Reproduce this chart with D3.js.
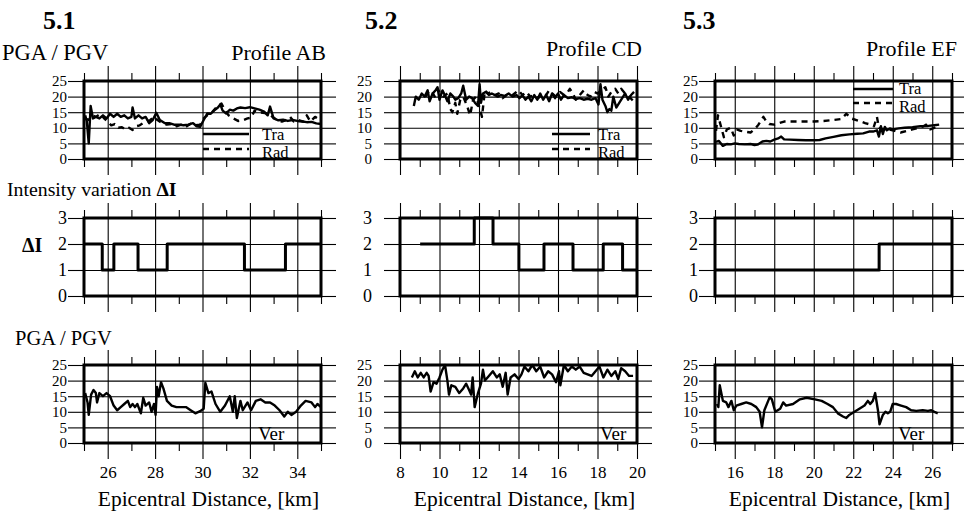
<!DOCTYPE html>
<html>
<head>
<meta charset="utf-8">
<script src="https://d3js.org/d3.v7.min.js"></script>
<style>
body { margin: 0; background: #fff; }
</style>
</head>
<body>
<script>
// DATA

var kmDomains = [[25, 35], [8, 20], [15, 27]];
var pgaTicks = [0, 5, 10, 15, 20, 25];
var diTicks = [0, 1, 2, 3];
var panelNames = ["5.1", "5.2", "5.3"];
var profileNames = ["Profile AB", "Profile CD", "Profile EF"];
var legendNames = ["Tra", "Rad"];

// profile AB, transverse / radial
var abTra = [[25.05,14],[25.12,12],[25.2,5],[25.28,17],[25.38,13],[25.5,13.5],[25.65,13],[25.8,14],[25.95,13],[26.1,14.5],[26.25,13.5],[26.4,14.5],[26.55,13.5],[26.7,14],[26.85,13],[27.0,13.5],[27.05,16.5],[27.15,13],[27.3,14],[27.45,13],[27.6,13.5],[27.75,11.5],[27.9,12.5],[28.05,14.8],[28.2,12.5],[28.4,11.5],[28.6,11.5],[28.8,11],[29.0,11],[29.2,10.8],[29.4,11],[29.6,11.5],[29.75,10.5],[29.9,10.3],[30.05,12.5],[30.2,14.6],[30.35,14.5],[30.5,15.6],[30.65,16.5],[30.75,17.5],[30.85,15.5],[31.0,14.6],[31.15,15.8],[31.3,15.5],[31.45,16.2],[31.6,16.5],[31.8,16.3],[32.0,16.6],[32.2,16.2],[32.4,15.8],[32.6,15.2],[32.75,14],[32.85,16.8],[33.0,13],[33.2,12.4],[33.4,12.6],[33.6,12.2],[33.8,12.5],[34.0,12.2],[34.2,12],[34.4,11.8],[34.6,11.9],[34.8,11.4],[35.0,11.2]];
var abRad = [[25.05,13],[25.2,12.5],[25.35,14],[25.5,13.5],[25.7,14.5],[25.85,13],[26.0,12],[26.15,10.8],[26.3,11.2],[26.45,10],[26.6,10.2],[26.75,9.5],[26.9,10],[27.05,9.3],[27.2,10.5],[27.35,10.8],[27.5,11.5],[27.65,12],[27.8,12.5],[27.95,13.5],[28.1,12.5],[28.3,11.5],[28.5,11],[28.7,11.2],[28.9,10.5],[29.1,11],[29.3,10.3],[29.5,11.3],[29.7,10.8],[29.9,11],[30.05,13],[30.2,14],[30.4,15],[30.6,16.7],[30.8,17.8],[30.95,15.5],[31.1,14],[31.3,13],[31.5,12.2],[31.7,12.4],[31.9,13],[32.05,13.2],[32.2,15.5],[32.35,15],[32.55,14.8],[32.75,14.6],[32.95,13.5],[33.15,12.5],[33.35,12],[33.5,12.4],[33.7,13.5],[33.85,12],[34.05,12.5],[34.25,12],[34.4,14],[34.55,12],[34.75,13.5],[34.9,12.8],[35.0,12]];

// profile CD
var cdTra = [[8.7,17],[8.8,20],[8.95,19],[9.1,21],[9.25,20],[9.4,22],[9.5,18.5],[9.65,21],[9.8,22],[9.9,23],[10.0,19],[10.15,22],[10.3,20],[10.4,18.5],[10.55,21],[10.7,20],[10.8,19],[10.95,19.5],[11.1,21],[11.2,23.5],[11.35,19],[11.5,20],[11.65,19.5],[11.8,18],[11.95,17],[12.03,24],[12.1,18],[12.2,21],[12.35,21.5],[12.5,20.5],[12.65,21],[12.8,20.5],[12.95,20],[13.1,20.5],[13.3,20.2],[13.5,21],[13.7,20],[13.9,20.5],[14.05,19.5],[14.2,20.5],[14.35,19],[14.5,20],[14.65,18.5],[14.8,20.5],[14.95,19],[15.1,21],[15.25,19],[15.4,20.5],[15.55,18.5],[15.7,21],[15.85,19.5],[16.0,21],[16.15,19],[16.3,20.5],[16.5,19.5],[16.7,19.8],[16.9,19.2],[17.1,19.5],[17.3,19],[17.5,19.3],[17.7,19],[17.9,19.5],[18.05,17.5],[18.15,24],[18.25,19],[18.4,17],[18.5,15],[18.6,16],[18.7,15.5],[18.8,20],[18.95,16.5],[19.1,18],[19.25,19.5],[19.4,21],[19.55,19],[19.7,20.5],[19.85,21.5]];
var cdRad = [[9.3,20],[9.45,21.5],[9.6,22],[9.75,20],[9.9,22.5],[10.05,21],[10.2,20],[10.4,21],[10.55,16],[10.65,15],[10.8,18],[10.9,14.5],[11.05,19],[11.2,20],[11.4,17],[11.55,14],[11.7,19],[11.85,20],[12.05,16],[12.15,13.5],[12.3,22],[12.45,21],[12.6,21.5],[12.8,20.5],[13.0,21],[13.2,19.5],[13.4,20.5],[13.6,20],[13.8,21],[14.0,22],[14.2,20.5],[14.4,21.5],[14.6,20],[14.8,20.5],[15.0,19.5],[15.2,21],[15.4,20.5],[15.55,22],[15.7,21],[15.9,20],[16.1,21.5],[16.3,20.5],[16.45,21],[16.6,22.5],[16.75,21],[16.9,19],[17.1,20.5],[17.3,22],[17.5,20.5],[17.65,20],[17.85,21.5],[18.0,21],[18.2,22],[18.4,23],[18.55,20],[18.7,21.5],[18.9,22.5],[19.05,21],[19.2,22.5],[19.4,21],[19.6,20],[19.75,19],[19.9,18]];

// profile EF
var efTra = [[15.05,5.5],[15.2,5.8],[15.4,4.2],[15.6,4.8],[15.8,4.7],[16.0,5],[16.2,4.8],[16.5,4.7],[16.8,4.8],[17.0,4.5],[17.15,4.6],[17.4,5.6],[17.6,5.8],[17.8,5.6],[18.0,6.2],[18.2,6.6],[18.35,7.2],[18.5,6.3],[18.8,6.2],[19.2,6.1],[19.6,6],[20.0,6],[20.3,6.1],[20.6,6.6],[21.0,7.1],[21.4,7.6],[21.8,7.9],[22.2,8.1],[22.5,8.2],[22.8,8.8],[23.0,8.8],[23.2,9.2],[23.3,7.2],[23.4,10.5],[23.5,8],[23.6,10.3],[23.7,9.2],[23.85,9.8],[24.0,9.5],[24.3,9.8],[24.6,10],[25.0,10.2],[25.4,10.5],[25.8,10.6],[26.1,10.8],[26.35,11]];
var efRad = [[15.05,9],[15.15,14],[15.3,10.5],[15.45,7],[15.6,9.5],[15.8,10],[15.95,7.5],[16.1,9.5],[16.3,9],[16.5,8.8],[16.8,8.5],[17.0,9.5],[17.2,11],[17.35,12.5],[17.45,13.5],[17.6,12],[17.75,11.2],[18.0,11],[18.25,11.5],[18.5,12],[19.0,12],[19.5,12],[20.0,12],[20.5,12.2],[21.0,12.5],[21.4,12.8],[21.65,14.5],[21.9,13],[22.3,12.2],[22.6,11.5],[22.9,11],[23.05,10.5],[23.2,13.5],[23.3,10],[23.5,9.5],[23.8,9.5],[24.1,9],[24.4,8.5],[24.7,9],[25.0,9.5],[25.3,10],[25.55,10.5],[25.7,11],[25.9,9.5],[26.1,10],[26.25,10.5]];

// intensity variation (step, value holds until next point)
var abDI = [[25,2],[25.77,1],[26.26,2],[27.28,1],[28.51,2],[31.77,1],[33.5,2],[35,2]];
var cdDI = [[9.02,2],[11.76,3],[12.71,2],[14.02,1],[15.29,2],[16.76,1],[18.29,2],[19.27,1],[20,1]];
var efDI = [[15,1],[23.31,2],[27,2]];

// vertical component
var abVer = [[25.05,16],[25.15,13],[25.2,9],[25.3,15.5],[25.4,17],[25.5,16],[25.55,13],[25.65,16],[25.8,15],[25.95,16],[26.1,15],[26.25,12],[26.4,10.5],[26.55,11.5],[26.7,12.5],[26.85,13.5],[26.95,11.5],[27.05,12.5],[27.15,11.5],[27.25,12.5],[27.4,9.5],[27.5,14.5],[27.6,12],[27.75,13],[27.85,10],[27.95,12.5],[28.02,9],[28.08,18],[28.15,15],[28.25,19.5],[28.35,17.5],[28.5,13.5],[28.7,12],[28.9,11.5],[29.1,11.5],[29.3,11.5],[29.5,10.5],[29.7,9.5],[29.9,10.2],[30.05,11],[30.12,19.3],[30.25,16],[30.38,16.5],[30.55,12.5],[30.75,10],[30.95,12],[31.15,15],[31.28,10],[31.36,15],[31.45,8],[31.6,13.5],[31.7,10.5],[31.9,13],[32.05,10.5],[32.25,13.5],[32.45,14],[32.65,13],[32.85,13],[33.05,12],[33.25,10.5],[33.45,8.5],[33.6,10],[33.75,9],[33.95,10],[34.15,12],[34.35,13.5],[34.6,13],[34.75,11.5],[34.85,12.5],[35.0,11.5]];
var cdVer = [[8.6,21],[8.75,23],[8.9,21],[9.05,22.5],[9.2,21],[9.35,22.5],[9.45,21.5],[9.55,16.5],[9.7,19.5],[9.85,19],[10.0,21],[10.15,23.5],[10.28,25],[10.4,20],[10.48,15.5],[10.6,18.5],[10.8,18],[11.0,16],[11.2,17.5],[11.35,19],[11.5,17],[11.6,15.5],[11.68,21],[11.78,11.5],[11.95,16],[12.1,19],[12.2,23.5],[12.3,20],[12.5,21.5],[12.7,23],[12.9,21],[13.05,22],[13.2,18],[13.35,22.5],[13.45,15.5],[13.6,21],[13.8,22],[14.0,20.5],[14.15,22],[14.3,24.5],[14.5,23],[14.7,25],[14.9,23],[15.1,24.5],[15.3,21],[15.5,23],[15.7,22],[15.9,19.5],[16.05,23],[16.12,18.5],[16.3,25],[16.5,23],[16.7,24.5],[16.9,23.5],[17.1,24.5],[17.3,22.5],[17.5,22],[17.7,21.5],[17.9,23],[18.1,24.5],[18.3,21],[18.5,23.5],[18.7,21.5],[18.9,23],[19.05,20.5],[19.2,24],[19.4,23],[19.6,21.5],[19.8,21.5]];
var efVer = [[15.1,12.5],[15.17,11.5],[15.24,18.5],[15.4,13.5],[15.57,13],[15.68,11.5],[15.83,13.5],[15.95,10.5],[16.08,12],[16.33,12.5],[16.58,13],[16.84,12.5],[17.09,11.5],[17.26,10],[17.38,5],[17.5,10.5],[17.77,14.7],[17.88,14],[18.05,10],[18.3,11],[18.45,13],[18.6,12],[18.95,12.5],[19.3,14],[19.64,14.5],[20.06,14],[20.4,13.5],[20.7,12.5],[20.97,11.5],[21.22,9.5],[21.48,8.5],[21.64,8],[21.8,9],[22.06,10],[22.31,11],[22.57,12],[22.74,13.5],[22.86,12.5],[22.99,13.5],[23.11,16],[23.25,10.5],[23.33,6],[23.5,9],[23.63,10],[23.75,9.5],[23.87,10],[24.0,12.5],[24.17,12.5],[24.42,12],[24.68,11.5],[24.93,10.5],[25.19,10.3],[25.52,10.5],[25.78,10.3],[25.95,10.5],[26.11,10],[26.28,9.5]];

// LAYOUT

var svgWidth = 964;
var svgHeight = 513;

var layout = {
  width: 237,
  height: 78,
  colLeft: [84, 400, 715],
  rowTop: [81, 218, 365],
  labelPad: [1, 12, 1]
};

// legend boxes, relative to panel corner
var legendPos = [
  {x0: 119, x1: 165, y1: 53, y2: 68, tx: 178, b1: 59, b2: 77},
  {x0: 152, x1: 190, y1: 53, y2: 68, tx: 198, b1: 59, b2: 77},
  {x0: 138, x1: 178, y1: 8, y2: 22, tx: 184, b1: 13, b2: 31}
];
var verPos = [174, 200, 183];
var titleX = [43, 365, 683];
var profileY = [60, 56, 56];

var serif = "'Liberation Serif', serif";

// SVG WRAPPER

var svg = d3.select("body")
  .append("svg")
  .attr("width", svgWidth)
  .attr("height", svgHeight)
  .attr("font-family", serif);

function clean(sel) {
  sel.select(".domain").remove();
  sel.selectAll(".tick line").attr("stroke", "#000").attr("stroke-width", 1.1);
  sel.attr("font-family", serif);
}

// ONE PANEL

function drawPanel(col, row, yDomain, yTicks, series) {
  var w = layout.width, h = layout.height;
  var g = svg.append("g")
    .attr("transform", `translate(${layout.colLeft[col]}, ${layout.rowTop[row]})`);

  var x = d3.scaleLinear().domain(kmDomains[col]).range([0, w]);
  var y = d3.scaleLinear().domain(yDomain).range([h, 0]);

  var allKm = d3.range(kmDomains[col][0], kmDomains[col][1] + 1);
  var major = allKm.filter(k => k % 2 === 0);
  var minor = allKm.filter(k => k % 2 !== 0);

  // gridlines
  g.append("g").call(d3.axisBottom(x).tickValues(major).tickSize(h).tickFormat("")).call(clean);
  g.append("g").call(d3.axisRight(y).tickValues(yTicks).tickSize(w).tickFormat("")).call(clean);

  // data
  series.forEach(function(s) {
    var line = d3.line()
      .x(d => x(d[0]))
      .y(d => y(d[1]))
      .curve(s.step ? d3.curveStepAfter : d3.curveLinear);
    g.append("path")
      .datum(s.data)
      .attr("d", line)
      .attr("fill", "none")
      .attr("stroke", "#000")
      .attr("stroke-width", s.step ? 3 : 2.4)
      .attr("stroke-linejoin", "round")
      .attr("stroke-dasharray", s.dash ? "6,5" : null);
  });

  // frame
  g.append("rect")
    .attr("width", w)
    .attr("height", h)
    .attr("fill", "none")
    .attr("stroke", "#000")
    .attr("stroke-width", 3);

  // outer ticks
  g.append("g").call(d3.axisTop(x).tickValues(major).tickSize(15).tickFormat("")).call(clean);
  g.append("g").call(d3.axisTop(x).tickValues(minor).tickSize(8).tickFormat("")).call(clean);
  g.append("g").attr("transform", `translate(0, ${h})`)
    .call(d3.axisBottom(x).tickValues(minor).tickSize(8).tickFormat("")).call(clean);

  g.append("g").attr("transform", `translate(0, ${h})`)
    .call(d3.axisBottom(x).tickValues(major).tickSize(16).tickPadding(7)
      .tickFormat(row === 2 ? d3.format("d") : ""))
    .call(clean)
    .attr("font-size", 17);

  g.append("g")
    .call(d3.axisLeft(y).tickValues(yTicks).tickSize(16).tickPadding(layout.labelPad[col])
      .tickFormat(d3.format("d")))
    .call(clean)
    .attr("font-size", row === 1 ? 18 : 15);

  g.append("g").attr("transform", `translate(${w}, 0)`)
    .call(d3.axisRight(y).tickValues(yTicks).tickSize(15).tickFormat("")).call(clean);

  return g;
}

// ROW 1: TRANSVERSE / RADIAL

var topSeries = [[abTra, abRad], [cdTra, cdRad], [efTra, efRad]];

topSeries.forEach(function(pair, col) {
  var g = drawPanel(col, 0, [0, 25], pgaTicks, [
    {data: pair[1], dash: true},
    {data: pair[0]}
  ]);
  var lp = legendPos[col];
  g.append("line").attr("x1", lp.x0).attr("x2", lp.x1).attr("y1", lp.y1).attr("y2", lp.y1)
    .attr("stroke", "#000").attr("stroke-width", 2.6);
  g.append("line").attr("x1", lp.x0).attr("x2", lp.x1).attr("y1", lp.y2).attr("y2", lp.y2)
    .attr("stroke", "#000").attr("stroke-width", 2.6).attr("stroke-dasharray", "6,5");
  g.append("text").attr("x", lp.tx).attr("y", lp.b1).attr("font-size", 16.5).text(legendNames[0]);
  g.append("text").attr("x", lp.tx).attr("y", lp.b2).attr("font-size", 16.5).text(legendNames[1]);

  svg.append("text")
    .attr("x", titleX[col]).attr("y", 29)
    .attr("font-size", 26).attr("font-weight", "bold")
    .text(panelNames[col]);

  svg.append("text")
    .attr("x", layout.colLeft[col] + layout.width + 5).attr("y", profileY[col])
    .attr("text-anchor", "end").attr("font-size", 22)
    .text(profileNames[col]);
});

// ROW 2: INTENSITY VARIATION

[abDI, cdDI, efDI].forEach(function(di, col) {
  drawPanel(col, 1, [0, 3], diTicks, [{data: di, step: true}]);
});

// ROW 3: VERTICAL

[abVer, cdVer, efVer].forEach(function(ver, col) {
  var g = drawPanel(col, 2, [0, 25], pgaTicks, [{data: ver}]);
  g.append("text").attr("x", verPos[col]).attr("y", 75).attr("font-size", 19).text("Ver");

  svg.append("text")
    .attr("x", layout.colLeft[col] + layout.width / 2 + 6).attr("y", 506)
    .attr("text-anchor", "middle").attr("font-size", 21.5)
    .text("Epicentral Distance, [km]");
});

// AXIS TITLES

svg.append("text").attr("x", 2).attr("y", 60).attr("font-size", 22.5).text("PGA / PGV");
svg.append("text").attr("x", 15).attr("y", 345).attr("font-size", 20.5).text("PGA / PGV");

var iv = svg.append("text").attr("x", 7).attr("y", 196).attr("font-size", 19.8);
iv.append("tspan").text("Intensity variation ");
iv.append("tspan").attr("font-weight", "bold").text("ΔI");

svg.append("text").attr("x", 22).attr("y", 252).attr("font-size", 20)
  .attr("font-weight", "bold").text("ΔI");
</script>
</body>
</html>
